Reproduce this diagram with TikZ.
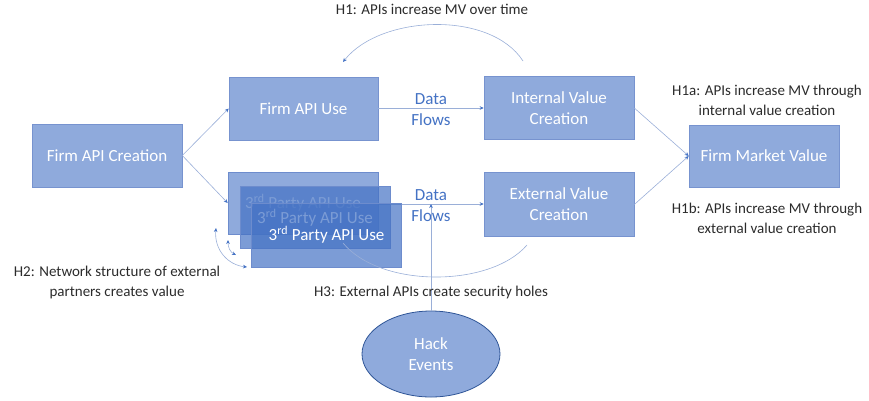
\documentclass[tikz,border=0pt]{standalone}
\usepackage{fontspec}
\setmainfont{Carlito}
\usetikzlibrary{arrows.meta,shapes.geometric}
\definecolor{boxfill}{HTML}{8FAADC}
\definecolor{boxline}{HTML}{7793CF}
\definecolor{darkblue}{HTML}{4472C4}
\definecolor{linecol}{HTML}{9AAFD8}
\definecolor{hypcol}{HTML}{2B2B2B}
\definecolor{ellline}{HTML}{2F5597}
\tikzset{
  box/.style={draw=boxline, line width=0.6pt, fill=boxfill, inner sep=0pt, text=white,
    align=center, font=\fontsize{17}{21}\selectfont},
  tpbox/.style={draw=boxline!80!darkblue, line width=0.6pt, inner sep=0pt, text=white,
    align=center, font=\fontsize{17}{21}\selectfont, minimum width=150pt, minimum height=62pt},
  hyp/.style={text=hypcol, align=center, font=\fontsize{15}{20}\selectfont, inner sep=0pt},
  flowlabel/.style={text=darkblue, align=center, font=\fontsize{17}{21}\selectfont, inner sep=0pt},
  conn/.style={draw=linecol, line width=0.6pt, -{Stealth[length=4pt,width=3.6pt,color=darkblue]}},
  plainconn/.style={draw=linecol, line width=0.6pt},
  dconn/.style={draw=linecol, line width=0.6pt, {Stealth[length=4pt,width=3.6pt,color=darkblue]}-{Stealth[length=4pt,width=3.6pt,color=darkblue]}}
}
\begin{document}
\begin{tikzpicture}[x=1pt,y=-1pt]
\useasboundingbox (0,0) rectangle (869,400);
% connectors drawn first (behind boxes)
\coordinate (df1) at (431,108);
\coordinate (df2) at (431,204);
% main boxes
\node[box, minimum width=150pt, minimum height=63pt] (fac) at (107,155.5) {Firm API Creation};
\node[box, minimum width=149pt, minimum height=63pt] (fau) at (303.5,108.5) {Firm API Use};
\node[box, minimum width=150pt, minimum height=63pt] (ivc) at (559,108) {Internal Value\\Creation};
\node[box, minimum width=150pt, minimum height=64pt] (evc) at (559,204.5) {External Value\\Creation};
\node[box, minimum width=150pt, minimum height=62pt] (fmv) at (764,156) {Firm Market Value};
% data flow lines
\draw[conn] (fau.east |- df1) -- (ivc.west |- df1);
\draw[conn] (378,204) coordinate (tpout) -- (ivc.west |- df2);
% 3rd party boxes
\node[tpbox, fill=boxfill] (tp1) at (303,203) {3\textsuperscript{rd} Party API Use};
\node[tpbox, fill=darkblue, fill opacity=0.7, text opacity=1] (tp2) at (315,217.5) {3\textsuperscript{rd} Party API Use};
\node[tpbox, fill=darkblue, fill opacity=0.7, text opacity=1, minimum height=64pt] (tp3) at (326.5,235) {3\textsuperscript{rd} Party API Use};
% re-draw text over (texts already drawn by nodes)
% connectors from creation
\draw[conn] (fac.east) -- (fau.west);
\draw[conn] (fac.east) -- (tp1.west);
\draw[conn] (ivc.east) -- (fmv.west);
\draw[conn] (evc.east) -- (fmv.west);
% Data flows labels
\node[flowlabel] (dfl1) at (431,110) {Data\\Flows};
\node[flowlabel] (dfl2) at (431,206) {Data\\Flows};
% H1 arc
\coordinate (h1s) at (523,61);
\coordinate (h1e) at (343,62);
\draw[conn] (h1s) .. controls (490,10) and (380,15) .. (h1e);
% H2 arcs
\coordinate (h2a) at (216,228);
\coordinate (h2b) at (247,267);
\coordinate (h2c) at (228,240);
\coordinate (h2d) at (236,255);
\draw[dconn] (h2a) .. controls (214,250) and (228,265) .. (h2b);
\draw[dconn] (h2c) .. controls (228,247) and (230,252) .. (h2d);
% H3 arc
\coordinate (h3s) at (343,243);
\coordinate (h3e) at (527,245);
\draw[plainconn] (h3s) .. controls (380,288) and (490,288) .. (h3e);
% Hack events
\node[ellipse, draw=ellline, line width=0.8pt, fill=boxfill, minimum width=138pt, minimum height=86pt, inner sep=0pt, text=white, align=center, font=\fontsize{17}{21}\selectfont] (hack) at (431,354) {Hack\\Events};
\draw[conn] (hack.north) -- (df2);
% hypothesis labels
\node[hyp] (h1) at (432,9) {H1: APIs increase MV over time};
\node[hyp] (h1a) at (767,100) {H1a: APIs increase MV through\\internal value creation};
\node[hyp] (h1b) at (767,218) {H1b: APIs increase MV through\\external value creation};
\node[hyp] (h2) at (117,282) {H2: Network structure of external\\partners creates value};
\node[hyp] (h3) at (431,292) {H3: External APIs create security holes};
\end{tikzpicture}
\end{document}
